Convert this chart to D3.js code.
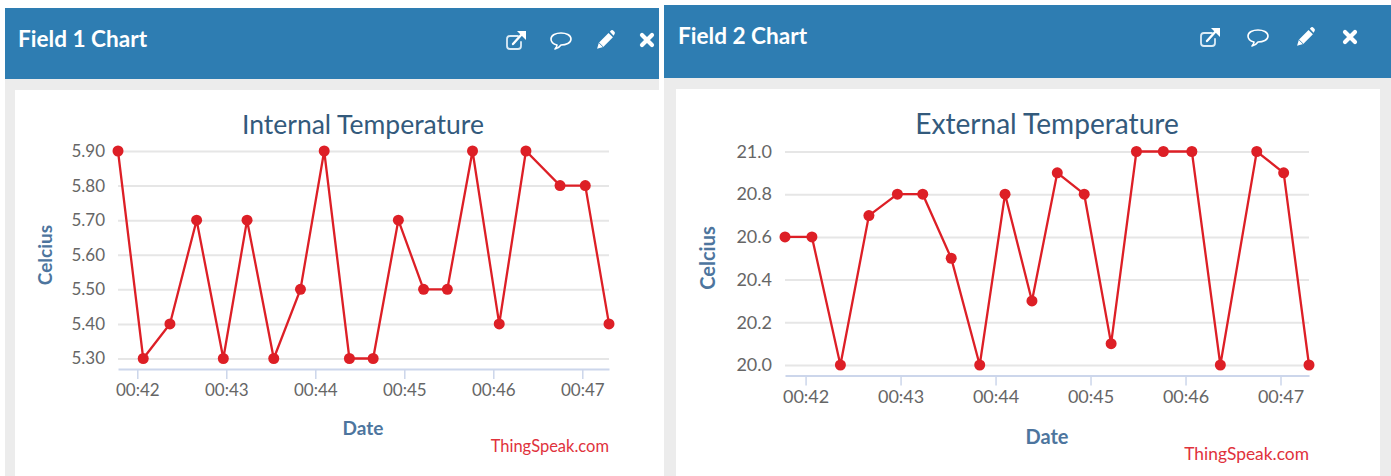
<!DOCTYPE html>
<html><head><meta charset="utf-8">
<script src="https://cdn.jsdelivr.net/npm/d3@7/dist/d3.min.js"></script>
<style>
html,body{margin:0;padding:0;background:#fff;overflow:hidden}
svg{display:block}
text{font-family:Lato,sans-serif}
</style></head><body>
<svg id="c" width="1391" height="476"></svg>
<script>
const times = ["00:41:47","00:42:04","00:42:22","00:42:40","00:42:58","00:43:14","00:43:32","00:43:50","00:44:06","00:44:23","00:44:39","00:44:56","00:45:13","00:45:29","00:45:46","00:46:04","00:46:22","00:46:45","00:47:02","00:47:18"];
const internalTemp = [5.9,5.3,5.4,5.7,5.3,5.7,5.3,5.5,5.9,5.3,5.3,5.7,5.5,5.5,5.9,5.4,5.9,5.8,5.8,5.4];
const externalTemp = [20.6,20.6,20.0,20.7,20.8,20.8,20.5,20.0,20.8,20.3,20.9,20.8,20.1,21.0,21.0,21.0,20.0,21.0,20.9,20.0];
const timeTicks = ["00:42:00","00:43:00","00:44:00","00:45:00","00:46:00","00:47:00"];
const internalTicks = [5.3,5.4,5.5,5.6,5.7,5.8,5.9];
const externalTicks = [20.0,20.2,20.4,20.6,20.8,21.0];

const parse = d3.timeParse("%H:%M:%S");
const fmtT = d3.timeFormat("%H:%M");
const svg = d3.select("#c");

function panel(o){
  const g = svg.append("g");
  g.append("rect").attr("x",o.px).attr("y",o.hy).attr("width",o.pw).attr("height",476-o.hy).attr("fill","#ececec");
  g.append("rect").attr("x",o.wx).attr("y",o.wy).attr("width",o.ww).attr("height",476-o.wy).attr("fill","#fff");
  g.append("rect").attr("x",o.px).attr("y",o.hy).attr("width",o.pw).attr("height",o.hh).attr("fill","#2e7db2");
  g.append("text").attr("x",o.hx).attr("y",o.hty).attr("fill","#fff").attr("font-size",22.6).attr("font-weight",700).text(o.head);
  o.icons.forEach((x,i)=>icon(g,i,x,o.icy));

  const x = d3.scaleTime().domain(d3.extent(times,parse)).range(o.xr);
  const y = d3.scaleLinear().domain(o.yd).range(o.yr);

  const ax = g.append("g").attr("transform",`translate(0,${o.axisY})`)
    .call(d3.axisBottom(x).tickValues(timeTicks.map(parse)).tickFormat(fmtT).tickSize(10).tickSizeOuter(0).tickPadding(5));
  ax.select(".domain").attr("stroke","#ccd6eb").attr("stroke-width",2);
  ax.selectAll("line").attr("stroke","#ccd6eb").attr("stroke-width",1.5);
  ax.selectAll("text").attr("fill","#666").attr("font-size",o.tickFs).attr("font-family","Lato,sans-serif");

  const ay = g.append("g").attr("transform",`translate(${o.xr[0]},0)`)
    .call(d3.axisLeft(y).tickValues(o.yt).tickFormat(d3.format(o.yf)).tickSize(0).tickPadding(o.yPad));
  ay.select(".domain").remove();
  ay.selectAll("text").attr("fill","#666").attr("font-size",o.tickFs).attr("font-family","Lato,sans-serif");
  ay.selectAll(".tick").append("line").attr("x1",0).attr("x2",o.xr[1]-o.xr[0]).attr("stroke","#e6e6e6").attr("stroke-width",2);

  g.append("text").attr("x",o.tx).attr("y",o.ty).attr("text-anchor","middle").attr("fill","#335a7c").attr("font-size",o.titleFs).text(o.title);
  g.append("text").attr("x",o.dx).attr("y",o.dy).attr("text-anchor","middle").attr("fill","#4d759e").attr("font-weight",700).attr("font-size",o.labFs).text("Date");
  g.append("text").attr("transform",`translate(${o.cx},${o.cy}) rotate(-90)`).attr("text-anchor","middle").attr("fill","#4d759e").attr("font-weight",700).attr("font-size",o.labFs).text("Celcius");
  g.append("text").attr("x",o.xr[1]).attr("y",o.cry).attr("text-anchor","end").attr("fill","#e0323c").attr("font-size",o.crFs).text("ThingSpeak.com");

  const line = d3.line().x((d,i)=>x(parse(times[i]))).y(d=>y(d));
  g.append("path").datum(o.vals).attr("fill","none").attr("stroke","#dd1f26").attr("stroke-width",2.3).attr("d",line);
  g.selectAll("circle").data(o.vals).join("circle").attr("cx",(d,i)=>x(parse(times[i]))).attr("cy",d=>y(d)).attr("r",5.5).attr("fill","#dd1f26");
}

function icon(g,k,x,y){
  const n = g.append("g").attr("transform",`translate(${x},${y})`).attr("fill","none").attr("stroke","#fff").attr("stroke-linecap","round").attr("stroke-linejoin","round");
  if(k===0){
    n.append("path").attr("stroke-width",1.8).attr("stroke","#dcebf5").attr("d","M2,-4 H-6 Q-9,-4 -9,-1 V6 Q-9,9 -6,9 H2 Q5,9 5,6 V2");
    n.append("path").attr("stroke-width",2.4).attr("d","M-3,4 L6,-6");
    n.append("path").attr("fill","#fff").attr("stroke","none").attr("d","M1,-9 H10 V0 Z");
  } else if(k===1){
    n.append("path").attr("stroke-width",1.6).attr("d","M-6,9 Q-4,7 -4,5 C-8,4 -10,2 -10,-1 C-10,-5 -5,-7 0,-7 C5,-7 10,-5 10,-1 C10,3 5,5 0,5 Q-2,8 -6,9 Z");
  } else if(k===2){
    n.attr("transform",`translate(${x},${y}) scale(0.88)`);
    n.append("path").attr("fill","#fff").attr("stroke","none").attr("d","M-9,10 L-7,3 L4,-8 L9,-3 L-2,8 Z M5.5,-9.5 L7,-11 Q8,-11.5 9,-11 L11,-9 Q11.5,-8 11,-7 L9.8,-4.8 Z");
    n.append("path").attr("stroke","#2e7db2").attr("stroke-width",1).attr("d","M-7,3 L-2,8");
  } else {
    n.append("path").attr("stroke-width",4.2).attr("stroke-linecap","round").attr("d","M-5,-5 L5,5 M5,-5 L-5,5");
  }
}

panel({px:5,pw:654,hy:8,hh:71,wx:15,wy:90,ww:644,hx:18,hty:47,head:"Field 1 Chart",icons:[516,561,605,647],icy:40,
  xr:[118,609],yd:[5.3,5.9],yr:[358.5,151],yt:internalTicks,yf:".2f",yPad:13,axisY:369,tickFs:17,
  title:"Internal Temperature",tx:363,ty:133.5,titleFs:26.5,dx:363,dy:435,cx:52,cy:255,labFs:19,cry:452,crFs:16.5,vals:internalTemp});
panel({px:664,pw:727,hy:5,hh:73,wx:676,wy:89,ww:704,hx:678,hty:44,head:"Field 2 Chart",icons:[1210,1258,1305,1350],icy:37,
  xr:[785,1309],yd:[20,21],yr:[365,151.5],yt:externalTicks,yf:".1f",yPad:13,axisY:375.5,tickFs:18,
  title:"External Temperature",tx:1047,ty:134,titleFs:28.1,dx:1047,dy:444,cx:715,cy:258,labFs:20,cry:460,crFs:17.4,vals:externalTemp});
</script>
</body></html>
